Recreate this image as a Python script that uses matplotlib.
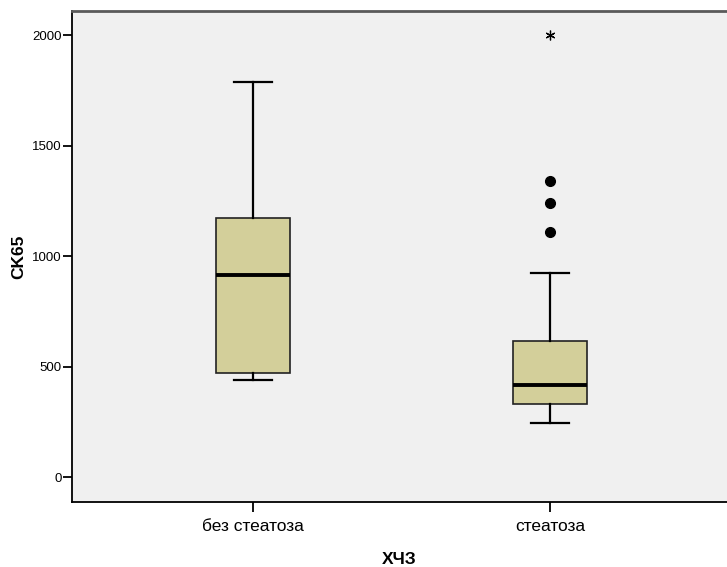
import matplotlib
matplotlib.use("Agg")
import matplotlib.pyplot as plt

plt.rcParams["font.family"] = ["Liberation Sans", "DejaVu Sans"]

# Box summaries per group
groups = ["без стеатоза", "стеатоза"]
whisker_low = [439, 244]
q1 = [471, 330]
median = [914, 416]
q3 = [1172, 615]
whisker_high = [1787, 923]
outliers = [[], [1109, 1240, 1339]]
extremes = [[], [2000]]

BOX_FILL = "#D3CF9A"
PANEL_BG = "#F0F0F0"

fig = plt.figure(figsize=(7.27, 5.67), dpi=100)
ax = fig.add_axes([72 / 727, 65 / 567, 655 / 727, 491 / 567])
ax.set_facecolor(PANEL_BG)

stats = []
for i, name in enumerate(groups):
    stats.append({
        "label": name,
        "whislo": whisker_low[i],
        "q1": q1[i],
        "med": median[i],
        "q3": q3[i],
        "whishi": whisker_high[i],
        "fliers": outliers[i],
    })

positions = list(range(1, len(groups) + 1))
ax.bxp(
    stats,
    positions=positions,
    widths=0.25,
    patch_artist=True,
    showfliers=True,
    boxprops=dict(facecolor=BOX_FILL, edgecolor="#222222", linewidth=1.2),
    medianprops=dict(color="black", linewidth=2.8),
    whiskerprops=dict(color="black", linewidth=1.6),
    capprops=dict(color="black", linewidth=1.6),
    capwidths=0.125,
    flierprops=dict(marker="o", markerfacecolor="black", markeredgecolor="black",
                    markersize=7),
)

# extreme values marked with an asterisk
for pos, vals in zip(positions, extremes):
    if vals:
        ax.plot([pos] * len(vals), vals, linestyle="none", marker=(6, 2, 0),
                markersize=7, color="black", markeredgewidth=0.9)

ax.set_xlim(1 - 181 / 297, 2 + 177 / 297)
ax.set_ylim(-113, 2109)
ax.set_yticks([0, 500, 1000, 1500, 2000])
ax.set_xticks(positions)
ax.set_xticklabels(groups, fontsize=12.5)
ax.tick_params(axis="y", labelsize=9.5, length=6.5, width=1.3, pad=1)
ax.tick_params(axis="x", length=7, width=1.3, pad=5)

ax.spines["right"].set_visible(False)
ax.spines["top"].set_color("#5a5a5a")
ax.spines["top"].set_linewidth(2)
ax.spines["left"].set_linewidth(1.3)
ax.spines["bottom"].set_linewidth(1.3)

ax.set_xlabel("ХЧЗ", fontsize=12.5, fontweight="bold", labelpad=13)
ax.set_ylabel("CK65", fontsize=12.5, fontweight="bold", labelpad=4)

fig.savefig("out.png", dpi=100, facecolor="white")
plt.close(fig)
